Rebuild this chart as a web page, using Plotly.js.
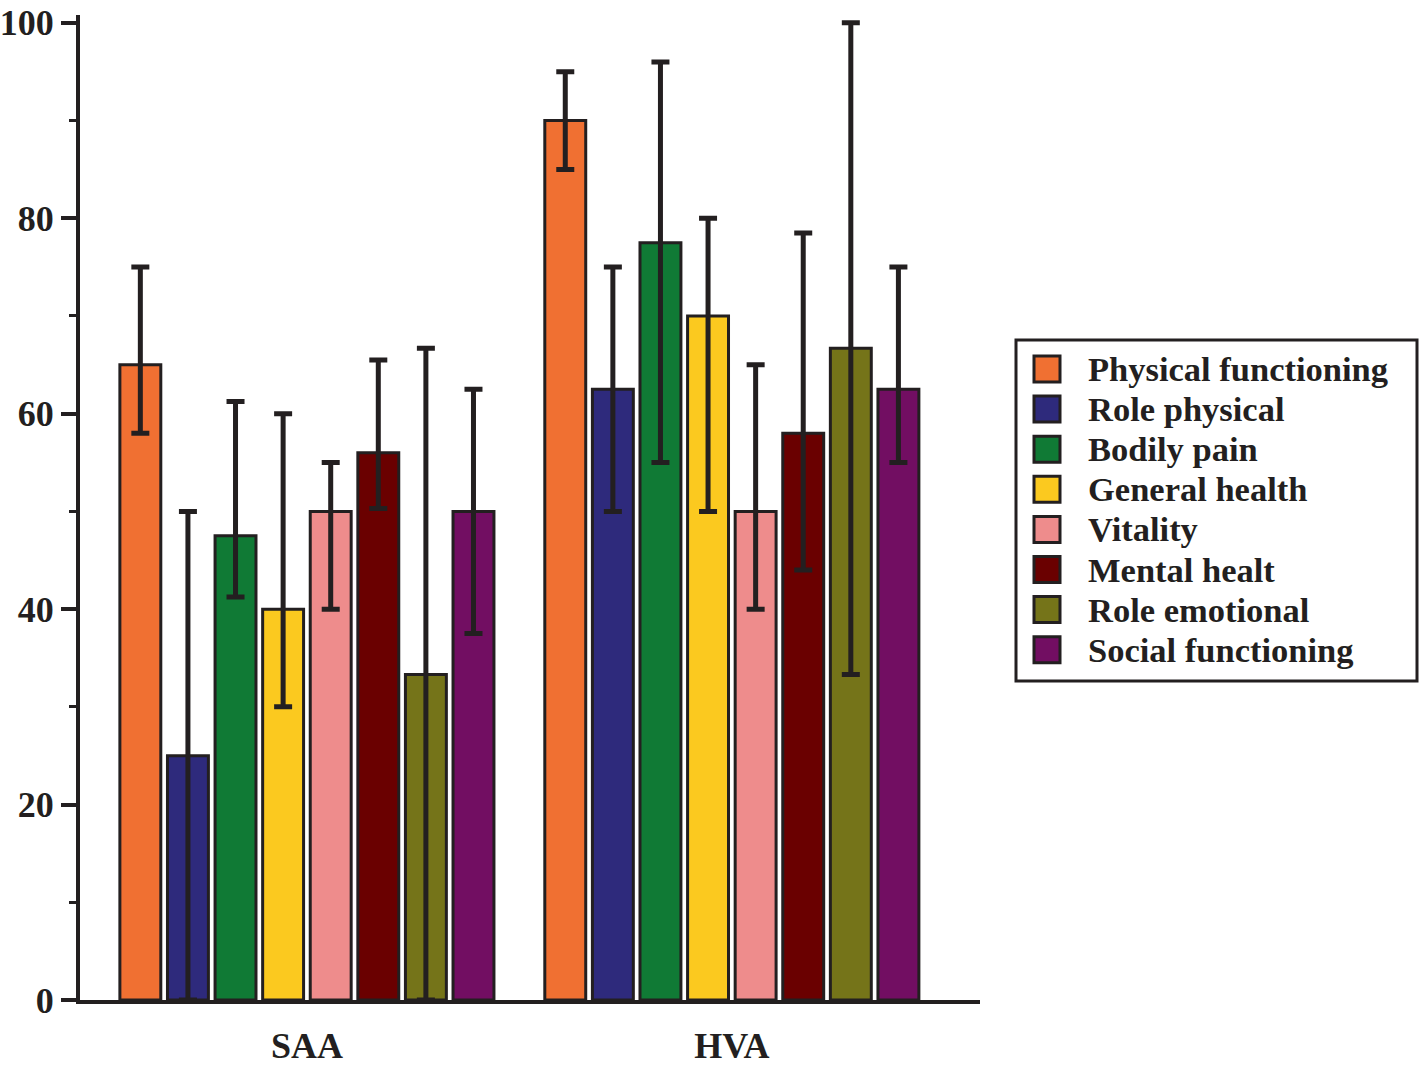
<!DOCTYPE html>
<html>
<head>
<meta charset="utf-8">
<script src="https://cdn.plot.ly/plotly-3.0.1.min.js"></script>
<style>html,body{margin:0;padding:0;background:#fff;}#chart{width:1421px;height:1067px;}</style>
</head>
<body>
<div id="chart"></div>
<script>
// ---- data ----
const categories = ['SAA', 'HVA'];
const seriesNames = ['Physical functioning', 'Role physical', 'Bodily pain', 'General health',
                     'Vitality', 'Mental healt', 'Role emotional', 'Social functioning'];
const seriesColors = ['#F07032', '#2E2A7C', '#107A35', '#FBC91F', '#EE8C8C', '#6A0000', '#757419', '#720E62'];
const saaValues = [65, 25, 47.5, 40, 50, 56, 33.3, 50];
const saaLow    = [58, 0, 41.25, 30, 40, 50.3, 0, 37.5];
const saaHigh   = [75, 50, 61.25, 60, 55, 65.5, 66.7, 62.5];
const hvaValues = [90, 62.5, 77.5, 70, 50, 58, 66.7, 62.5];
const hvaLow    = [85, 50, 55, 50, 40, 44, 33.3, 55];
const hvaHigh   = [95, 75, 96, 80, 65, 78.5, 100, 75];
const yTicks = [0, 20, 40, 60, 80, 100];

// ---- styling ----
const ink = '#231F20';
const fontFam = 'Liberation Serif, Times New Roman, serif';

const traces = seriesNames.map((name, i) => ({
  type: 'bar',
  name: name,
  x: categories,
  y: [saaValues[i], hvaValues[i]],
  marker: { color: seriesColors[i], line: { color: ink, width: 3 } },
  error_y: {
    type: 'data',
    symmetric: false,
    array: [saaHigh[i] - saaValues[i], hvaHigh[i] - hvaValues[i]],
    arrayminus: [saaValues[i] - saaLow[i], hvaValues[i] - hvaLow[i]],
    color: ink,
    thickness: 5,
    width: 9
  },
  showlegend: false,
  hoverinfo: 'skip'
}));

// plot area in pixels: x 80..980, y 15..1000
const L = 80, R = 980, T = 15, B = 1000;
const W = 1421, H = 1067;
const px = v => (v - L) / (R - L);
const py = v => (B - v) / (B - T);

const shapes = [];
const annotations = [];
// legend frame
shapes.push({ type: 'rect', xref: 'paper', yref: 'paper',
  x0: px(1016), x1: px(1417), y0: py(681), y1: py(340),
  line: { color: ink, width: 3 }, fillcolor: 'rgba(0,0,0,0)' });
seriesNames.forEach((name, i) => {
  const cy = 369 + 40.1 * i;
  shapes.push({ type: 'rect', xref: 'paper', yref: 'paper',
    x0: px(1034), x1: px(1060), y0: py(cy + 13), y1: py(cy - 13),
    fillcolor: seriesColors[i], line: { color: ink, width: 3 } });
  annotations.push({ xref: 'paper', yref: 'paper', x: px(1086), y: py(cy),
    xanchor: 'left', yanchor: 'middle', showarrow: false, text: name,
    font: { family: fontFam, size: 34.5, color: ink, weight: 'bold' } });
});

const layout = {
  width: W, height: H,
  margin: { l: L, r: W - R, t: T, b: H - B, pad: 0 },
  paper_bgcolor: '#fff', plot_bgcolor: '#fff',
  barmode: 'group', bargap: 0.104, bargroupgap: 0.14,
  showlegend: false,
  xaxis: {
    type: 'category', range: [-0.534, 1.584],
    showline: true, linecolor: ink, linewidth: 4,
    ticks: '', showgrid: false, zeroline: false,
    tickfont: { family: fontFam, size: 36, color: ink, weight: 'bold' },
    ticklabelstandoff: 11
  },
  yaxis: {
    range: [0, 100.8],
    tickvals: yTicks, ticktext: yTicks.map(String),
    showline: true, linecolor: ink, linewidth: 4,
    ticks: 'outside', ticklen: 15, tickwidth: 4, tickcolor: ink,
    minor: { tickvals: [10, 30, 50, 70, 90], ticks: 'outside', ticklen: 7, tickwidth: 3, tickcolor: ink, showgrid: false },
    showgrid: false, zeroline: false,
    tickfont: { family: fontFam, size: 36, color: ink, weight: 'bold' },
    ticklabelstandoff: 0
  },
  shapes: shapes,
  annotations: annotations
};

Plotly.newPlot('chart', traces, layout, { displayModeBar: false, staticPlot: true });
</script>
</body>
</html>
